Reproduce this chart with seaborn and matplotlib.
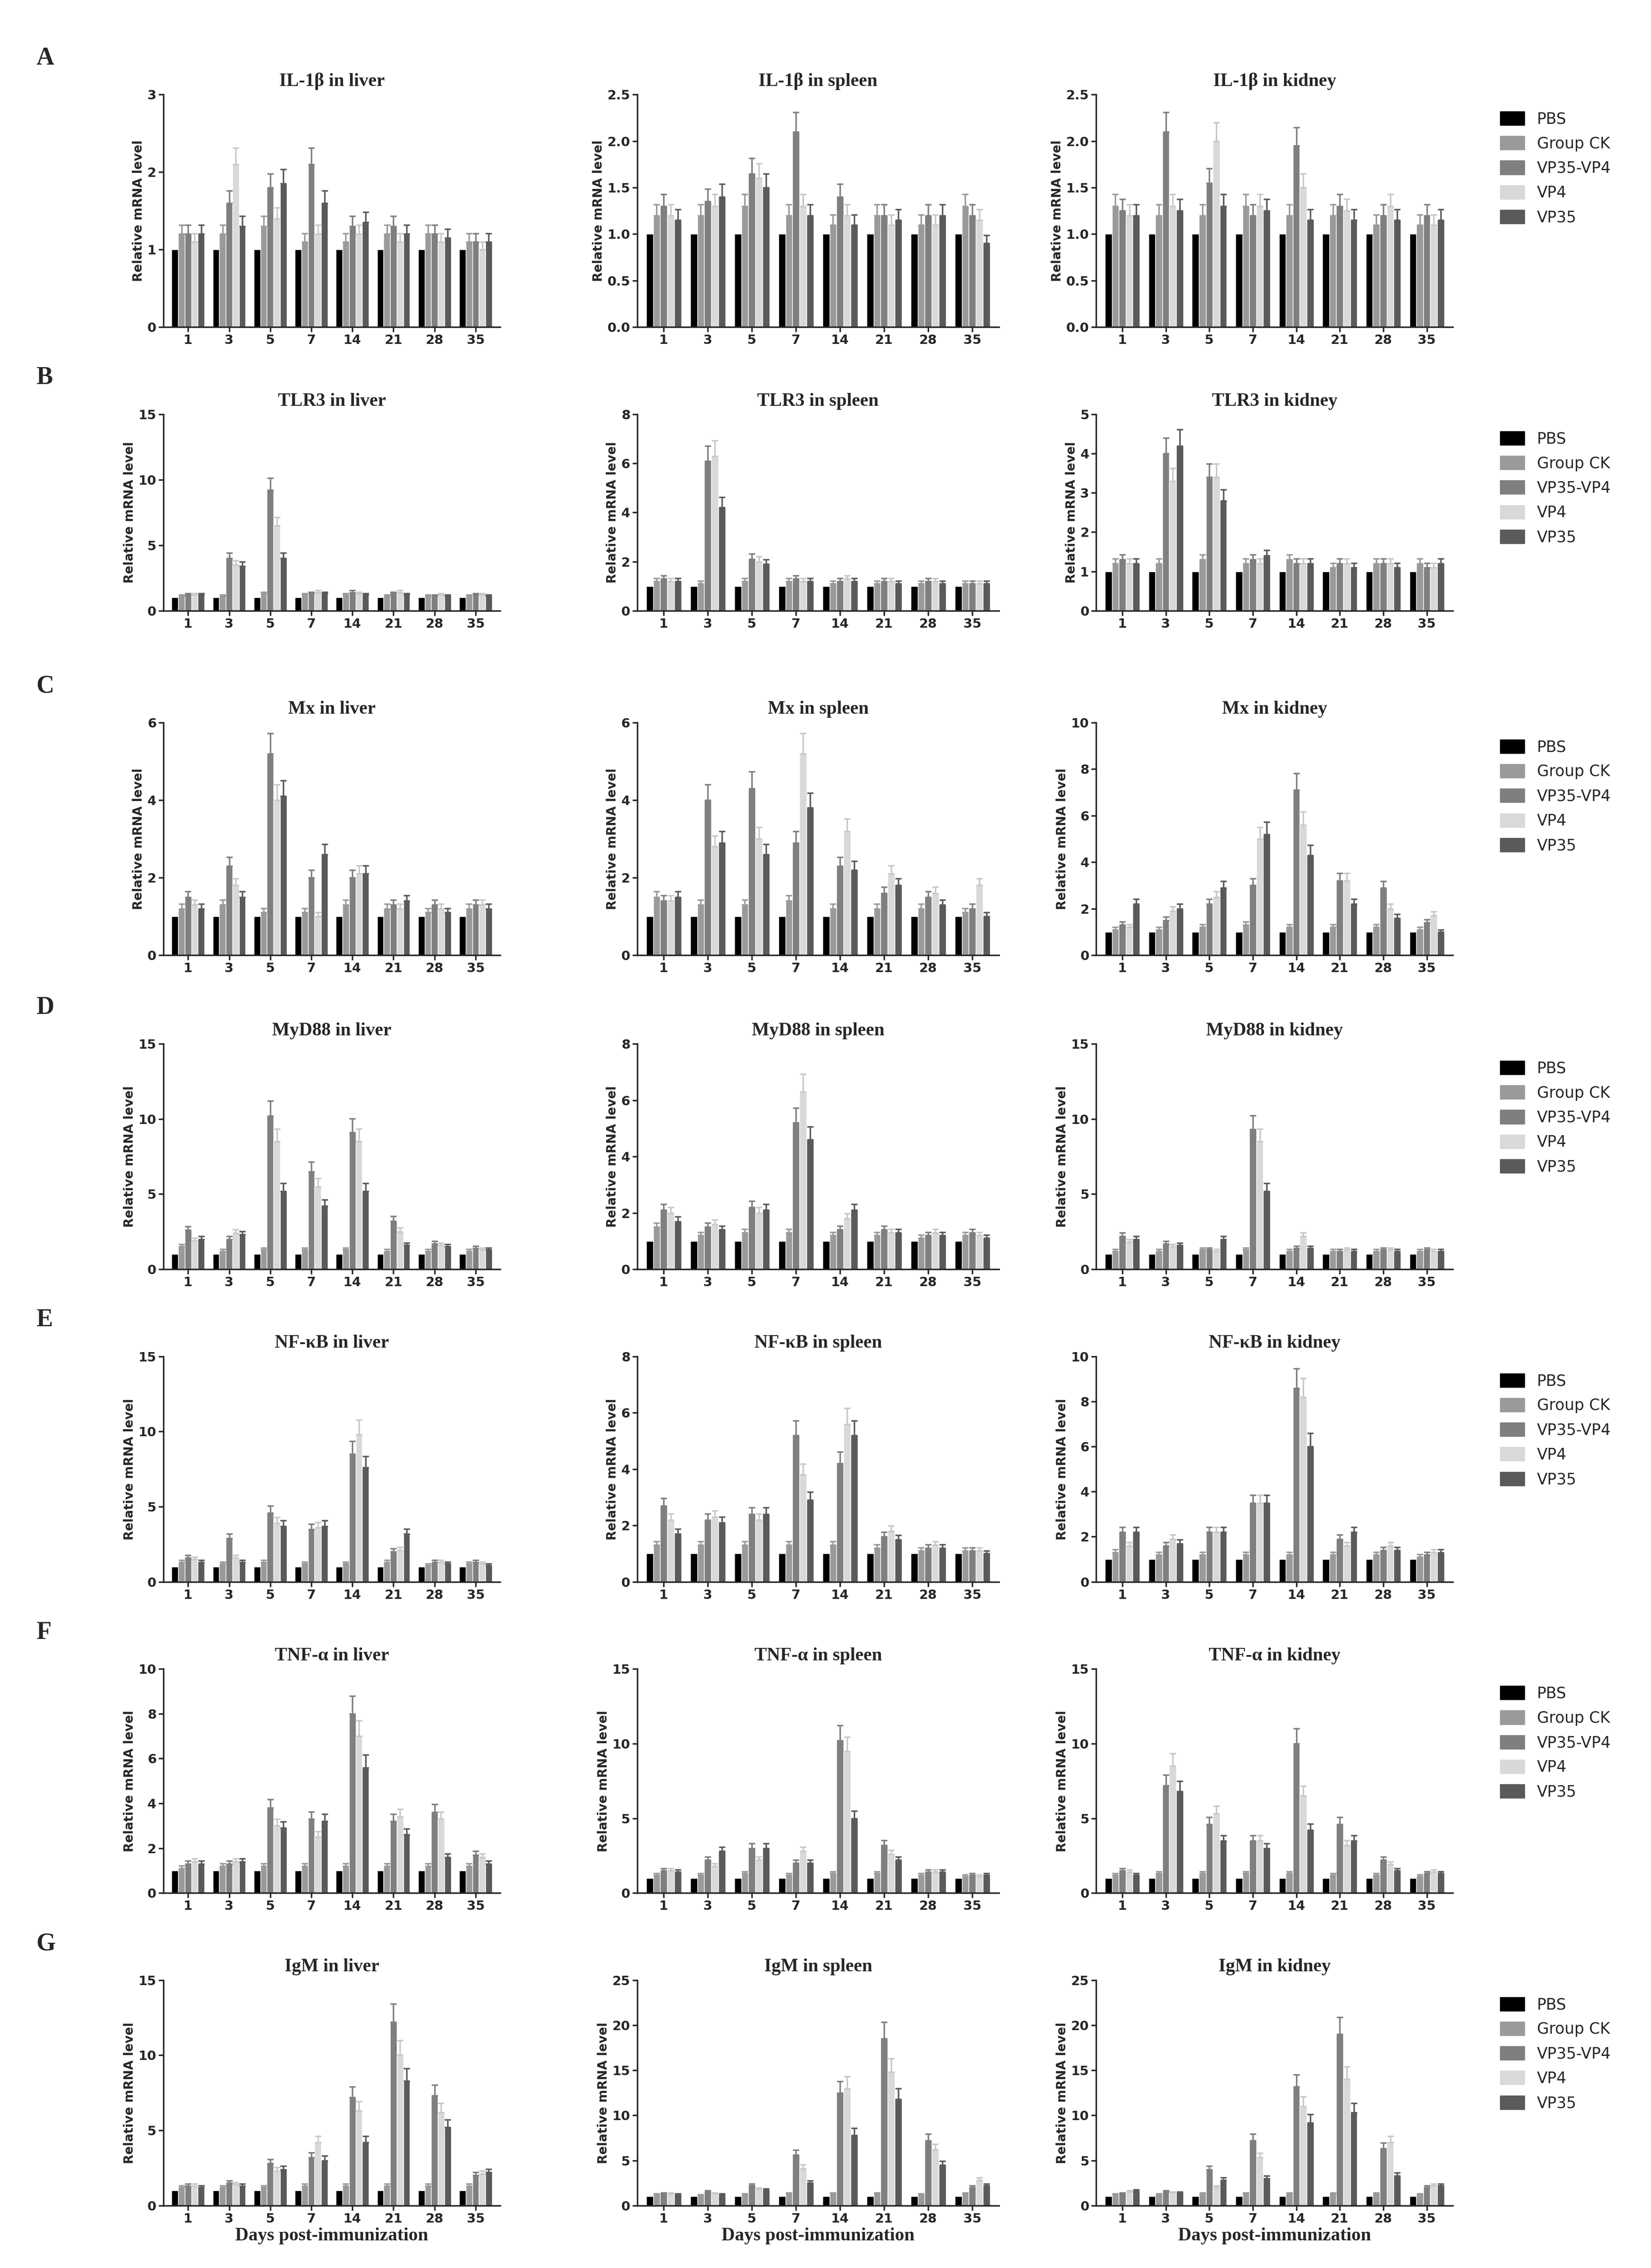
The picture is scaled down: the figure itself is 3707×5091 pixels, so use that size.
import numpy as np
import pandas as pd
import matplotlib
matplotlib.use("Agg")
import matplotlib.pyplot as plt
import seaborn as sns

sns.set_theme(style="ticks")
plt.rcParams['font.family'] = ['DejaVu Sans']

days = ["1", "3", "5", "7", "14", "21", "28", "35"]
groups = ["PBS", "Group CK", "VP35-VP4", "VP4", "VP35"]
colors = ["#000000", "#9a9a9a", "#7f7f7f", "#d9d9d9", "#5a5a5a"]
genes = ["IL-1β", "TLR3", "Mx", "MyD88", "NF-κB", "TNF-α", "IgM"]
tissues = ["liver", "spleen", "kidney"]
row_letters = ["A", "B", "C", "D", "E", "F", "G"]

il1b_liver = [[1,1.2,1.2,1.1,1.2],[1,1.2,1.6,2.1,1.3],[1,1.3,1.8,1.4,1.85],[1,1.1,2.1,1.2,1.6],[1,1.1,1.3,1.2,1.35],[1,1.2,1.3,1.1,1.2],[1,1.2,1.2,1.1,1.15],[1,1.1,1.1,1.0,1.1]]
il1b_spleen = [[1,1.2,1.3,1.2,1.15],[1,1.2,1.35,1.3,1.4],[1,1.3,1.65,1.6,1.5],[1,1.2,2.1,1.3,1.2],[1,1.1,1.4,1.2,1.1],[1,1.2,1.2,1.1,1.15],[1,1.1,1.2,1.1,1.2],[1,1.3,1.2,1.15,0.9]]
il1b_kidney = [[1,1.3,1.25,1.2,1.2],[1,1.2,2.1,1.3,1.25],[1,1.2,1.55,2.0,1.3],[1,1.3,1.2,1.3,1.25],[1,1.2,1.95,1.5,1.15],[1,1.2,1.3,1.25,1.15],[1,1.1,1.2,1.3,1.15],[1,1.1,1.2,1.1,1.15]]
tlr3_liver = [[1,1.1,1.2,1.2,1.2],[1,1.1,4.0,3.5,3.4],[1,1.3,9.2,6.5,4.0],[1,1.2,1.3,1.4,1.3],[1,1.2,1.4,1.3,1.2],[1,1.1,1.3,1.4,1.2],[1,1.1,1.1,1.2,1.1],[1,1.1,1.2,1.2,1.1]]
tlr3_spleen = [[1,1.2,1.3,1.2,1.2],[1,1.1,6.1,6.3,4.2],[1,1.2,2.1,2.0,1.9],[1,1.2,1.3,1.2,1.2],[1,1.1,1.2,1.3,1.2],[1,1.1,1.2,1.2,1.1],[1,1.1,1.2,1.2,1.1],[1,1.1,1.1,1.1,1.1]]
tlr3_kidney = [[1,1.2,1.3,1.2,1.2],[1,1.2,4.0,3.3,4.2],[1,1.3,3.4,3.4,2.8],[1,1.2,1.3,1.2,1.4],[1,1.3,1.2,1.2,1.2],[1,1.1,1.2,1.2,1.1],[1,1.2,1.2,1.2,1.1],[1,1.2,1.1,1.1,1.2]]
mx_liver = [[1,1.2,1.5,1.3,1.2],[1,1.3,2.3,1.8,1.5],[1,1.1,5.2,4.0,4.1],[1,1.1,2.0,1.0,2.6],[1,1.3,2.0,2.1,2.1],[1,1.2,1.3,1.2,1.4],[1,1.1,1.3,1.2,1.1],[1,1.2,1.3,1.3,1.2]]
mx_spleen = [[1,1.5,1.4,1.4,1.5],[1,1.3,4.0,2.8,2.9],[1,1.3,4.3,3.0,2.6],[1,1.4,2.9,5.2,3.8],[1,1.2,2.3,3.2,2.2],[1,1.2,1.6,2.1,1.8],[1,1.2,1.5,1.6,1.3],[1,1.1,1.2,1.8,1.0]]
mx_kidney = [[1,1.1,1.3,1.2,2.2],[1,1.1,1.5,1.9,2.0],[1,1.2,2.2,2.5,2.9],[1,1.3,3.0,5.0,5.2],[1,1.2,7.1,5.6,4.3],[1,1.2,3.2,3.2,2.2],[1,1.2,2.9,2.0,1.6],[1,1.1,1.4,1.7,1.0]]
myd_liver = [[1,1.5,2.6,1.9,2.0],[1,1.2,2.0,2.4,2.3],[1,1.3,10.2,8.5,5.2],[1,1.3,6.5,5.5,4.2],[1,1.3,9.1,8.5,5.2],[1,1.2,3.2,2.5,1.6],[1,1.2,1.7,1.6,1.5],[1,1.2,1.4,1.3,1.3]]
myd_spleen = [[1,1.5,2.1,2.0,1.7],[1,1.2,1.5,1.6,1.4],[1,1.3,2.2,2.0,2.1],[1,1.3,5.2,6.3,4.6],[1,1.2,1.4,1.8,2.1],[1,1.2,1.4,1.3,1.3],[1,1.1,1.2,1.3,1.2],[1,1.2,1.3,1.2,1.1]]
myd_kidney = [[1,1.2,2.2,1.8,2.0],[1,1.2,1.7,1.5,1.6],[1,1.3,1.3,1.2,2.0],[1,1.3,9.3,8.5,5.2],[1,1.2,1.4,2.2,1.4],[1,1.2,1.2,1.3,1.2],[1,1.2,1.3,1.3,1.2],[1,1.2,1.3,1.2,1.2]]
nfkb_liver = [[1,1.3,1.6,1.5,1.3],[1,1.2,2.9,1.6,1.3],[1,1.3,4.6,3.9,3.7],[1,1.2,3.5,3.6,3.7],[1,1.2,8.5,9.8,7.6],[1,1.3,2.0,2.1,3.2],[1,1.1,1.3,1.3,1.2],[1,1.2,1.3,1.2,1.1]]
nfkb_spleen = [[1,1.3,2.7,2.2,1.7],[1,1.3,2.2,2.3,2.1],[1,1.3,2.4,2.2,2.4],[1,1.3,5.2,3.8,2.9],[1,1.3,4.2,5.6,5.2],[1,1.2,1.6,1.8,1.5],[1,1.1,1.2,1.3,1.2],[1,1.1,1.1,1.1,1.0]]
nfkb_kidney = [[1,1.3,2.2,1.6,2.2],[1,1.2,1.6,1.9,1.7],[1,1.2,2.2,2.2,2.2],[1,1.2,3.5,3.5,3.5],[1,1.2,8.6,8.2,6.0],[1,1.2,1.9,1.6,2.2],[1,1.2,1.4,1.6,1.4],[1,1.1,1.2,1.3,1.3]]
tnf_liver = [[1,1.1,1.3,1.4,1.3],[1,1.2,1.3,1.4,1.4],[1,1.2,3.8,3.0,2.9],[1,1.2,3.3,2.5,3.2],[1,1.2,8.0,7.0,5.6],[1,1.2,3.2,3.4,2.6],[1,1.2,3.6,3.3,1.6],[1,1.2,1.7,1.6,1.3]]
tnf_spleen = [[1,1.2,1.5,1.5,1.4],[1,1.2,2.2,1.8,2.8],[1,1.3,3.0,2.2,3.0],[1,1.2,2.0,2.8,2.0],[1,1.3,10.2,9.5,5.0],[1,1.3,3.2,2.6,2.2],[1,1.2,1.4,1.4,1.4],[1,1.1,1.2,1.1,1.2]]
tnf_kidney = [[1,1.2,1.5,1.4,1.2],[1,1.3,7.2,8.5,6.8],[1,1.3,4.6,5.3,3.5],[1,1.3,3.5,3.5,3.0],[1,1.3,10.0,6.5,4.2],[1,1.2,4.6,3.2,3.5],[1,1.2,2.2,1.9,1.5],[1,1.1,1.3,1.4,1.3]]
igm_liver = [[1,1.2,1.3,1.3,1.2],[1,1.2,1.5,1.4,1.3],[1,1.2,2.8,2.3,2.4],[1,1.3,3.2,4.2,3.0],[1,1.3,7.2,6.3,4.2],[1,1.3,12.2,10.0,8.3],[1,1.3,7.3,6.2,5.2],[1,1.3,2.0,2.1,2.2]]
igm_spleen = [[1,1.2,1.3,1.3,1.2],[1,1.1,1.5,1.3,1.2],[1,1.2,2.2,1.8,1.7],[1,1.3,5.6,4.1,2.5],[1,1.3,12.5,13.0,7.8],[1,1.3,18.5,14.8,11.8],[1,1.2,7.2,6.2,4.5],[1,1.3,2.0,2.8,2.2]]
igm_kidney = [[1,1.2,1.3,1.5,1.6],[1,1.2,1.5,1.4,1.4],[1,1.3,4.0,2.0,2.8],[1,1.3,7.2,5.3,3.0],[1,1.3,13.2,11.0,9.2],[1,1.3,19.0,14.0,10.3],[1,1.3,6.3,7.0,3.3],[1,1.2,2.0,2.2,2.2]]

data = [
    [il1b_liver, il1b_spleen, il1b_kidney],
    [tlr3_liver, tlr3_spleen, tlr3_kidney],
    [mx_liver, mx_spleen, mx_kidney],
    [myd_liver, myd_spleen, myd_kidney],
    [nfkb_liver, nfkb_spleen, nfkb_kidney],
    [tnf_liver, tnf_spleen, tnf_kidney],
    [igm_liver, igm_spleen, igm_kidney],
]
yticks = [
    [[0,1,2,3], [0,0.5,1.0,1.5,2.0,2.5], [0,0.5,1.0,1.5,2.0,2.5]],
    [[0,5,10,15], [0,2,4,6,8], [0,1,2,3,4,5]],
    [[0,2,4,6], [0,2,4,6], [0,2,4,6,8,10]],
    [[0,5,10,15], [0,2,4,6,8], [0,5,10,15]],
    [[0,5,10,15], [0,2,4,6,8], [0,2,4,6,8,10]],
    [[0,2,4,6,8,10], [0,5,10,15], [0,5,10,15]],
    [[0,5,10,15], [0,5,10,15,20,25], [0,5,10,15,20,25]],
]
err_frac = 0.1

W, H = 3707, 5091
fig = plt.figure(figsize=(W/100, H/100), dpi=100)

col_x = [(0.099, 0.204), (0.386, 0.219), (0.664, 0.216)]
row_top = [65, 285, 497, 718, 933, 1148, 1362]
row_bot = [225, 420, 657, 873, 1088, 1302, 1517]
S = 1560.0
serif = ['Liberation Serif', 'DejaVu Serif']

for r in range(7):
    y0 = 1 - row_bot[r]/S
    h = (row_bot[r]-row_top[r])/S
    for c in range(3):
        ax = fig.add_axes([col_x[c][0], y0, col_x[c][1], h])
        vals = data[r][c]
        recs = []
        for di, d in enumerate(days):
            for gi, g in enumerate(groups):
                recs.append({"day": d, "group": g, "value": vals[di][gi]})
        df = pd.DataFrame(recs)
        sns.barplot(data=df, x="day", y="value", hue="group", order=days,
                    hue_order=groups, palette=colors, errorbar=None,
                    width=0.8, saturation=1, ax=ax, legend=False)
        bar_conts = list(ax.containers)
        for gi, cont in enumerate(bar_conts):
            if gi == 0:
                continue
            for p in cont.patches:
                v = p.get_height()
                ax.errorbar(p.get_x()+p.get_width()/2, v, yerr=[[0], [v*err_frac]],
                            fmt='none', ecolor=colors[gi] if gi != 3 else "#c8c8c8",
                            elinewidth=2.5, capsize=5, capthick=2.5)
        yt = yticks[r][c]
        ax.set_ylim(0, yt[-1])
        ax.set_yticks(yt)
        if isinstance(yt[1], float):
            ax.set_yticklabels([f"{t:.1f}" for t in yt])
        ax.set_xlim(-0.6, 7.6)
        sns.despine(ax=ax)
        for s in ["left", "bottom"]:
            ax.spines[s].set_linewidth(2.5)
        ax.tick_params(axis='both', labelsize=21, width=2.5, length=8)
        for lab in ax.get_xticklabels() + ax.get_yticklabels():
            lab.set_fontweight('bold')
        ax.set_ylabel("Relative mRNA level", fontsize=20, fontweight='bold')
        if r == 6:
            ax.set_xlabel("Days post-immunization", fontsize=30, fontweight='bold',
                          family=serif)
        else:
            ax.set_xlabel("")
        ax.set_title(f"{genes[r]} in {tissues[c]}", fontsize=30, fontweight='bold',
                     family=serif, pad=14)
    fig.text(0.022, 1 - (row_top[r]-25)/S, row_letters[r], fontsize=40,
             fontweight='bold', family=serif, va='center')
    handles = [plt.Rectangle((0, 0), 1, 1, color=col) for col in colors]
    fig.legend(handles, groups, loc='upper left',
               bbox_to_anchor=(0.90, 1 - (row_top[r]+2)/S), frameon=False,
               fontsize=25, handlelength=1.6, handleheight=1.0, labelspacing=0.6)

fig.savefig("out.png", dpi=100)
